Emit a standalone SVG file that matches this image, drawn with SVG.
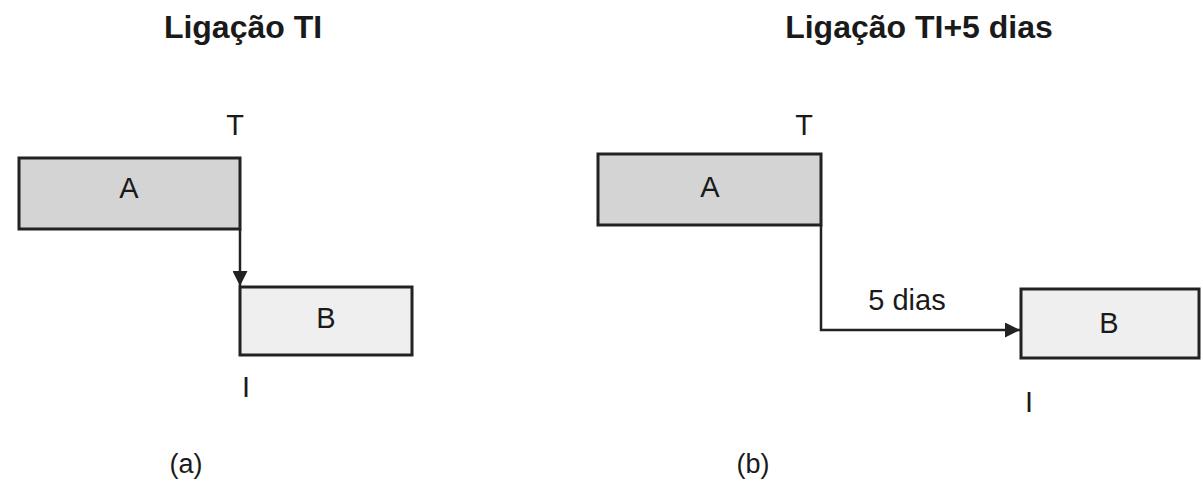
<svg xmlns="http://www.w3.org/2000/svg" width="1203" height="481" viewBox="0 0 1203 481">
  <style>
    .title { font-family: "Liberation Sans", Arial, sans-serif; font-size: 32px; font-weight: bold; fill: #1a1a1a; text-anchor: middle; }
    .lbl { font-family: "Liberation Sans", Arial, sans-serif; font-size: 29px; fill: #1a1a1a; text-anchor: middle; }
    .cap { font-family: "Liberation Sans", Arial, sans-serif; font-size: 27px; fill: #1a1a1a; text-anchor: middle; }
    .boxA { fill: #d4d4d4; stroke: #222; stroke-width: 3; }
    .boxB { fill: #efefef; stroke: #222; stroke-width: 3; }
    .link { fill: none; stroke: #222; stroke-width: 2.5; }
  </style>
  <defs>
    <marker id="arrow" viewBox="0 0 10 10" refX="10" refY="5" markerWidth="6" markerHeight="6" markerUnits="strokeWidth" orient="auto">
      <path d="M0,0 L10,5 L0,10 Z" fill="#222"/>
    </marker>
  </defs>
  <rect width="1203" height="481" fill="#ffffff"/>

  <!-- (a) finish-to-start link -->
  <text class="title" x="243" y="38">Ligação TI</text>
  <g id="a-taskA">
    <rect class="boxA" x="19" y="158" width="221" height="71"/>
    <text class="lbl" x="129" y="198">A</text>
  </g>
  <g id="a-taskB">
    <rect class="boxB" x="240" y="287" width="172" height="68"/>
    <text class="lbl" x="326" y="328">B</text>
  </g>
  <text class="lbl" x="235" y="135">T</text>
  <text class="lbl" x="246" y="397">I</text>
  <text class="cap" x="186" y="473">(a)</text>

  <!-- (b) finish-to-start link with 5-day lag -->
  <text class="title" x="919" y="38">Ligação TI+5 dias</text>
  <g id="b-taskA">
    <rect class="boxA" x="598" y="154" width="223" height="71"/>
    <text class="lbl" x="710" y="197">A</text>
  </g>
  <g id="b-taskB">
    <rect class="boxB" x="1021" y="289" width="178" height="69"/>
    <text class="lbl" x="1109" y="333">B</text>
  </g>
  <text class="lbl" x="804" y="135">T</text>
  <text class="lbl" x="1029" y="412">I</text>
  <text class="lbl" x="907" y="310">5 dias</text>
  <text class="cap" x="753" y="473">(b)</text>

  <g id="connectors">
    <path class="link" d="M240,229 L240,286" marker-end="url(#arrow)"/>
    <path class="link" d="M821,225 L821,330 L1020,330" marker-end="url(#arrow)"/>
  </g>
</svg>
